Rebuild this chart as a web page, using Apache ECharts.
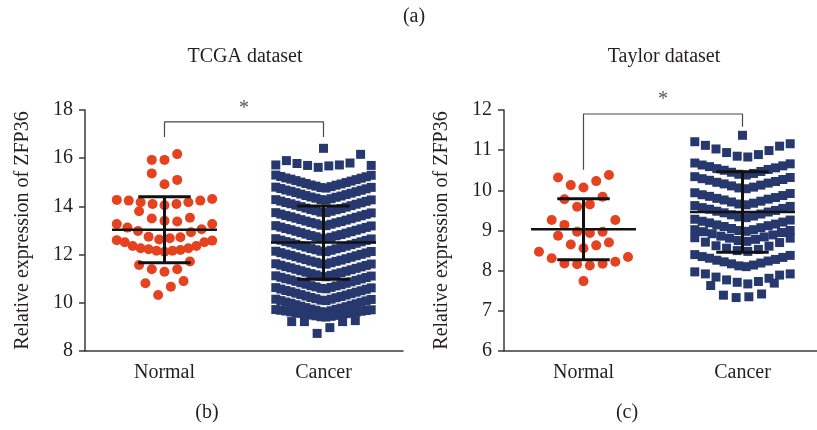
<!DOCTYPE html>
<html>
<head>
<meta charset="utf-8">
<title>ZFP36 expression</title>
<script src="https://cdn.jsdelivr.net/npm/echarts@6/dist/echarts.min.js"></script>
<style>
  html, body { margin: 0; padding: 0; background: #fff; }
  #chart { width: 817px; height: 430px; }
</style>
</head>
<body>
<div id="chart"></div>
<script>
// groups on the x axis
const groups = ['Normal', 'Cancer']

// TCGA dataset - each inner array is one row of the dot plot, read left to right
const tcgaNormalRows = [
    [15.93, 15.93, 16.17],
    [15.37, 14.92, 15.10],
    [14.27, 14.24, 14.17, 14.10, 14.05, 14.10, 14.17, 14.24, 14.31],
    [13.80, 13.50, 13.40, 13.37, 13.53],
    [13.27, 13.12, 12.98, 12.74, 12.63, 12.68, 12.72, 12.93, 13.05, 13.27],
    [12.60, 12.51, 12.36, 12.26, 12.22, 12.16, 12.12, 12.16, 12.19, 12.26, 12.36, 12.51, 12.58],
    [11.57, 11.39, 11.29, 11.39, 11.71],
    [10.81, 10.32, 10.67, 10.90]
]
const tcgaCancerRows = [
    [16.41],
    [15.72, 15.90, 15.78, 15.70, 15.62, 15.68, 15.72, 15.80, 16.16, 15.70],
    [15.30, 15.24, 15.18, 15.13, 15.07, 15.01, 14.95, 14.89, 14.84, 14.78, 14.76, 14.82, 14.88, 14.93, 14.99, 15.05, 15.11, 15.17, 15.23, 15.29],
    [14.80, 14.74, 14.68, 14.63, 14.57, 14.51, 14.45, 14.39, 14.34, 14.28, 14.26, 14.32, 14.38, 14.43, 14.49, 14.55, 14.61, 14.67, 14.73, 14.79],
    [14.28, 14.22, 14.16, 14.11, 14.05, 13.99, 13.93, 13.87, 13.82, 13.76, 13.74, 13.80, 13.86, 13.91, 13.97, 14.03, 14.09, 14.15, 14.21, 14.27],
    [13.74, 13.68, 13.62, 13.57, 13.51, 13.45, 13.39, 13.33, 13.28, 13.22, 13.20, 13.26, 13.32, 13.37, 13.43, 13.49, 13.55, 13.61, 13.67, 13.73],
    [13.20, 13.14, 13.08, 13.03, 12.97, 12.91, 12.85, 12.79, 12.74, 12.68, 12.66, 12.72, 12.78, 12.83, 12.89, 12.95, 13.01, 13.07, 13.13, 13.19],
    [12.66, 12.60, 12.54, 12.49, 12.43, 12.37, 12.31, 12.25, 12.20, 12.14, 12.12, 12.18, 12.24, 12.29, 12.35, 12.41, 12.47, 12.53, 12.59, 12.65],
    [12.14, 12.08, 12.02, 11.97, 11.91, 11.85, 11.79, 11.73, 11.68, 11.62, 11.60, 11.66, 11.72, 11.77, 11.83, 11.89, 11.95, 12.01, 12.07, 12.13],
    [11.62, 11.56, 11.50, 11.45, 11.39, 11.33, 11.27, 11.21, 11.16, 11.10, 11.08, 11.14, 11.20, 11.25, 11.31, 11.37, 11.43, 11.49, 11.55, 11.61],
    [11.12, 11.06, 11.00, 10.95, 10.89, 10.83, 10.77, 10.71, 10.66, 10.60, 10.58, 10.64, 10.70, 10.75, 10.81, 10.87, 10.93, 10.99, 11.05, 11.11],
    [10.63, 10.57, 10.51, 10.46, 10.40, 10.34, 10.28, 10.22, 10.17, 10.11, 10.09, 10.15, 10.21, 10.26, 10.32, 10.38, 10.44, 10.50, 10.56, 10.62],
    [10.15, 10.09, 10.03, 9.98, 9.92, 9.86, 9.80, 9.74, 9.69, 9.63, 9.61, 9.67, 9.73, 9.78, 9.84, 9.90, 9.96, 10.02, 10.08, 10.14],
    [9.72, 9.69, 9.66, 9.62, 9.59, 9.56, 9.52, 9.49, 9.46, 9.42, 9.41, 9.44, 9.48, 9.51, 9.55, 9.58, 9.61, 9.65, 9.68, 9.71],
    [9.22, 9.22, 8.73, 8.97, 9.22, 9.26]
]
// mean and SD (Normal, Cancer)
const tcgaMean = [13.03, 12.50]
const tcgaSd = [1.37, 1.52]
// significance bracket: left foot, top, right foot
const tcgaBracket = [16.88, 17.51, 16.88]

// Taylor dataset
const taylorNormalRows = [
    [10.32, 10.13, 10.07, 10.23, 10.38],
    [9.78, 9.59, 9.65, 9.84],
    [9.26, 9.14, 8.97, 8.94, 8.97, 9.26],
    [8.87, 8.65, 8.56, 8.63, 8.70],
    [8.47, 8.31, 8.18, 8.16, 8.13, 8.17, 8.22, 8.34],
    [7.74]
]
const taylorCancerRows = [
    [11.37],
    [11.21, 11.12, 11.03, 10.94, 10.85, 10.83, 10.89, 10.99, 11.10, 11.16],
    [10.68, 10.63, 10.59, 10.54, 10.50, 10.45, 10.40, 10.38, 10.42, 10.47, 10.52, 10.56, 10.61, 10.66],
    [10.34, 10.29, 10.25, 10.20, 10.16, 10.11, 10.06, 10.04, 10.08, 10.13, 10.18, 10.22, 10.27, 10.32],
    [9.94, 9.89, 9.85, 9.80, 9.76, 9.71, 9.66, 9.64, 9.68, 9.73, 9.78, 9.82, 9.87, 9.92],
    [9.62, 9.57, 9.53, 9.48, 9.44, 9.39, 9.34, 9.32, 9.36, 9.41, 9.46, 9.50, 9.55, 9.60],
    [9.28, 9.23, 9.19, 9.14, 9.10, 9.05, 9.00, 8.98, 9.02, 9.07, 9.12, 9.16, 9.21, 9.26],
    [9.02, 8.97, 8.92, 8.86, 8.81, 8.75, 8.73, 8.78, 8.84, 8.89, 8.95, 9.00],
    [8.82, 8.71, 8.62, 8.56, 8.50, 8.48, 8.53, 8.61, 8.70, 8.81],
    [8.40, 8.35, 8.31, 8.26, 8.22, 8.17, 8.12, 8.10, 8.14, 8.19, 8.24, 8.28, 8.33, 8.38],
    [7.97, 7.92, 7.84, 7.77, 7.71, 7.67, 7.73, 7.81, 7.89, 7.92],
    [7.63, 7.39, 7.33, 7.35, 7.42, 7.69]
]
const taylorMean = [9.03, 9.46]
const taylorSd = [0.76, 1.00]
const taylorBracket = [10.51, 11.90, 11.58]

// tick labels of the y axes
const tcgaTicks = [8, 10, 12, 14, 16, 18]
const taylorTicks = [6, 7, 8, 9, 10, 11, 12]

const FONT = '"Liberation Serif", "DejaVu Serif", serif'
const TEXT = '#231f20'
const RED = '#e5421f'
const NAVY = '#27386f'

// hidden x value axis runs 0..2, group centres sit at 0.5 and 1.5
const BASE_STEP = 0.08   // horizontal distance between neighbouring dots
const MAX_SPAN = 0.6     // widest a row may get
const MEAN_HALF = 0.33
const CAP_HALF = 0.165

// spread each row around the group centre (like a column scatter plot)
function spread(rows, centre){
    const pts = []
    rows.forEach(row=>{
        const n = row.length
        const step = n > 1 ? Math.min(BASE_STEP, MAX_SPAN / (n - 1)) : 0
        row.forEach((v, i)=>{
            pts.push([centre + (i - (n - 1) / 2) * step, v])
        })
    })
    return pts
}

function errorItem(params, api){
    const c = api.value(0), m = api.value(1), s = api.value(2)
    const seg = (x1, y1, x2, y2, w) => {
        const a = api.coord([x1, y1]), b = api.coord([x2, y2])
        return {
            type: 'line',
            shape: { x1: a[0], y1: a[1], x2: b[0], y2: b[1] },
            style: { stroke: '#111', lineWidth: w }
        }
    }
    return {
        type: 'group',
        children: [
            seg(c - MEAN_HALF, m, c + MEAN_HALF, m, 2.5),
            seg(c, m - s, c, m + s, 3),
            seg(c - CAP_HALF, m + s, c + CAP_HALF, m + s, 3),
            seg(c - CAP_HALF, m - s, c + CAP_HALF, m - s, 3)
        ]
    }
}

const axisLineStyle = { color: '#3a3a3a', width: 1.5 }

function catAxis(gridIndex){
    return {
        gridIndex,
        type: 'category',
        data: groups,
        boundaryGap: true,
        axisLine: { lineStyle: axisLineStyle },
        axisTick: { alignWithLabel: true, length: 7, lineStyle: axisLineStyle },
        axisLabel: { fontSize: 20, fontFamily: FONT, color: TEXT, margin: 12 },
        splitLine: { show: false }
    }
}
function hiddenAxis(gridIndex){
    return { gridIndex, type: 'value', min: 0, max: 2, show: false }
}
function valueAxis(gridIndex, ticks){
    return {
        gridIndex,
        type: 'value',
        min: ticks[0],
        max: ticks[ticks.length - 1],
        interval: ticks[1] - ticks[0],
        name: 'Relative expression of ZFP36',
        nameLocation: 'middle',
        nameGap: 52,
        nameTextStyle: { fontSize: 20, fontFamily: FONT, color: TEXT },
        axisLine: { show: true, lineStyle: axisLineStyle },
        axisTick: { show: true, length: 6, lineStyle: axisLineStyle },
        axisLabel: { fontSize: 20, fontFamily: FONT, color: TEXT, margin: 12 },
        splitLine: { show: false }
    }
}

function panelSeries(xIdx, yIdx, normalRows, cancerRows, mean, sd, bracket, starY){
    return [
        {
            type: 'scatter', xAxisIndex: xIdx, yAxisIndex: yIdx,
            symbol: 'circle', symbolSize: 10,
            itemStyle: { color: RED, opacity: 1 },
            data: spread(normalRows, 0.5)
        },
        {
            type: 'scatter', xAxisIndex: xIdx, yAxisIndex: yIdx,
            symbol: 'rect', symbolSize: 9,
            itemStyle: { color: NAVY, opacity: 1 },
            data: spread(cancerRows, 1.5)
        },
        {
            type: 'custom', xAxisIndex: xIdx, yAxisIndex: yIdx, z: 5,
            renderItem: errorItem,
            encode: { x: 0, y: 1 },
            data: mean.map((m, i) => [0.5 + i, m, sd[i]])
        },
        {
            type: 'line', xAxisIndex: xIdx, yAxisIndex: yIdx,
            symbol: 'none', clip: false,
            lineStyle: { color: '#4a4a4a', width: 1.2 },
            data: [[0.5, bracket[0]], [0.5, bracket[1]], [1.5, bracket[1]], [1.5, bracket[2]]]
        },
        {
            type: 'scatter', xAxisIndex: xIdx, yAxisIndex: yIdx,
            symbolSize: 1, clip: false,
            itemStyle: { color: 'transparent' },
            label: {
                show: true, position: 'inside', formatter: '*',
                fontSize: 20, fontFamily: FONT, color: TEXT
            },
            data: [[1, starY]]
        }
    ]
}

const myChart = echarts.init(document.getElementById('chart'))

const textEl = (text, x, y) => ({
    type: 'text', x, y,
    style: { text, fontSize: 20, fontFamily: FONT, fill: TEXT, align: 'center', verticalAlign: 'middle' }
})

const option = {
    animation: false,
    backgroundColor: '#fff',
    grid: [
        { left: 85, top: 110, right: 414, bottom: 79, containLabel: false, outerBoundsMode: 'none' },
        { left: 504, top: 110, right: -5, bottom: 79, containLabel: false, outerBoundsMode: 'none' }
    ],
    xAxis: [catAxis(0), hiddenAxis(0), catAxis(1), hiddenAxis(1)],
    yAxis: [valueAxis(0, tcgaTicks), valueAxis(1, taylorTicks)],
    graphic: [
        textEl('(a)', 414, 17),
        textEl('TCGA dataset', 245, 57),
        textEl('Taylor dataset', 664, 57),
        textEl('(b)', 207, 413),
        textEl('(c)', 627, 413)
    ],
    series: [
        ...panelSeries(1, 0, tcgaNormalRows, tcgaCancerRows, tcgaMean, tcgaSd, tcgaBracket, 18.05),
        ...panelSeries(3, 1, taylorNormalRows, taylorCancerRows, taylorMean, taylorSd, taylorBracket, 12.25)
    ]
}

myChart.setOption(option)
</script>
</body>
</html>
